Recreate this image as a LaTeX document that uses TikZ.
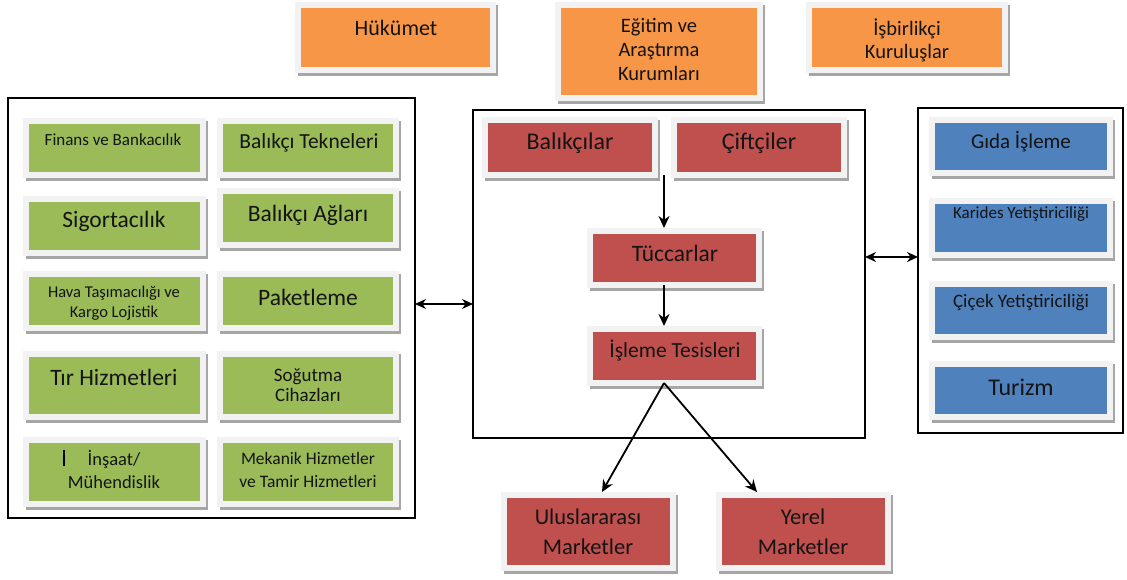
\documentclass[tikz,border=0pt]{standalone}
\usepackage{fontspec}
\setmainfont{Carlito}
\usetikzlibrary{backgrounds,arrows.meta}

\definecolor{orangebox}{HTML}{F79646}
\definecolor{greenbox}{HTML}{9BBB59}
\definecolor{redbox}{HTML}{C0504D}
\definecolor{bluebox}{HTML}{4F81BD}
\definecolor{framegray}{HTML}{F2F2F2}
\definecolor{shadowgray}{HTML}{A6A6A6}

% card: coloured panel with a light frame and a soft shadow below right
% #1 name, #2 colour, #3 left, #4 top, #5 right, #6 bottom
\newcommand\cardbox[6]{%
  \pgfmathsetmacro\cbx{(#3+#5)/2}%
  \pgfmathsetmacro\cby{(#4+#6)/2}%
  \pgfmathsetmacro\cbw{#5-#3}%
  \pgfmathsetmacro\cbh{#6-#4}%
  \node[card, fill=#2, minimum width=\cbw pt, minimum height=\cbh pt] (#1) at (\cbx,\cby) {};%
  \begin{scope}[on background layer]
    \fill[shadowgray] ([shift={(-3,-3)}]#1.north west) rectangle ([shift={(8,9)}]#1.south east);
    \fill[framegray] ([shift={(-6,-6)}]#1.north west) rectangle ([shift={(6,6)}]#1.south east);
  \end{scope}}

% outlined group frame: #1 name, #2 left, #3 top, #4 right, #5 bottom
\newcommand\groupbox[5]{%
  \pgfmathsetmacro\cbx{(#2+#4)/2}%
  \pgfmathsetmacro\cby{(#3+#5)/2}%
  \pgfmathsetmacro\cbw{#4-#2}%
  \pgfmathsetmacro\cbh{#5-#3}%
  \node[group, minimum width=\cbw pt, minimum height=\cbh pt] (#1) at (\cbx,\cby) {};}

\begin{document}
\begin{tikzpicture}[x=1pt,y=-1pt,
  card/.style={inner sep=0pt, outer sep=0pt},
  group/.style={draw=black, line width=1.6pt, inner sep=0pt, outer sep=0pt},
  lbl/.style={align=center, inner sep=0pt, text=black!92},
  flow/.style={draw=black, line width=1.8pt, -{Stealth[length=12pt,width=11pt]}},
  both/.style={draw=black, line width=1.8pt, {Stealth[length=11pt,width=10pt]}-{Stealth[length=11pt,width=10pt]}}
]
\useasboundingbox (0,0) rectangle (1127,580);

% group frames
\groupbox{lbox}{8}{98}{415}{518}
\groupbox{cbox}{473}{110}{865}{438}
\groupbox{rbox}{918}{108}{1123}{433}

% stakeholders on top
\cardbox{huk}{orangebox}{301}{8}{490}{67}
\cardbox{egi}{orangebox}{561}{8}{757}{95}
\cardbox{isb}{orangebox}{812}{8}{1002}{67}

% supporting services
\cardbox{fin}{greenbox}{29}{124}{200}{172}
\cardbox{tek}{greenbox}{223}{124}{393}{172}
\cardbox{sig}{greenbox}{29}{202}{200}{250}
\cardbox{agl}{greenbox}{223}{194}{393}{242}
\cardbox{hav}{greenbox}{29}{277}{200}{325}
\cardbox{pak}{greenbox}{223}{277}{393}{325}
\cardbox{tir}{greenbox}{29}{357}{200}{414}
\cardbox{sog}{greenbox}{223}{357}{393}{414}
\cardbox{ins}{greenbox}{29}{443}{200}{501}
\cardbox{mek}{greenbox}{223}{443}{393}{501}

% value chain
\cardbox{bal}{redbox}{488}{123}{652}{172}
\cardbox{cif}{redbox}{677}{123}{841}{172}
\cardbox{tuc}{redbox}{593}{234}{756}{282}
\cardbox{isl}{redbox}{593}{332}{756}{380}
\cardbox{ulu}{redbox}{507}{498}{670}{565}
\cardbox{yer}{redbox}{722}{498}{885}{565}

% related sectors
\cardbox{gid}{bluebox}{935}{123}{1107}{170}
\cardbox{kar}{bluebox}{935}{204}{1107}{252}
\cardbox{cic}{bluebox}{935}{287}{1107}{334}
\cardbox{tur}{bluebox}{935}{367}{1107}{414}

% labels
\node[lbl, font=\fontsize{22}{24}\selectfont] (thuk) at (396,28) {Hükümet};
\node[lbl, font=\fontsize{20.5}{24}\selectfont] (tegi) at (659,49) {Eğitim ve\\Araştırma\\Kurumları};
\node[lbl, font=\fontsize{20.5}{23}\selectfont] (tisb) at (907,40) {İşbirlikçi\\Kuruluşlar};

\node[lbl, font=\fontsize{17}{18}\selectfont] (tfin) at (113,140) {Finans ve Bankacılık};
\node[lbl, font=\fontsize{21.5}{24}\selectfont] (ttek) at (309,143) {Balıkçı Tekneleri};
\node[lbl, font=\fontsize{23.5}{26}\selectfont] (tsig) at (114,221) {Sigortacılık};
\node[lbl, font=\fontsize{23.5}{26}\selectfont] (tagl) at (308,215) {Balıkçı Ağları};
\node[lbl, font=\fontsize{16.5}{20}\selectfont] (thav) at (114,303) {Hava Taşımacılığı ve\\Kargo Lojistik};
\node[lbl, font=\fontsize{23.5}{26}\selectfont] (tpak) at (308,297) {Paketleme};
\node[lbl, font=\fontsize{23.5}{26}\selectfont] (ttir) at (114,377) {Tır Hizmetleri};
\node[lbl, font=\fontsize{19}{20}\selectfont] (tsog) at (308,385) {Soğutma\\Cihazları};
\node[lbl, font=\fontsize{18.5}{23}\selectfont] (tins) at (114,469.5) {İnşaat/\\Mühendislik};
\node[lbl, font=\fontsize{17.5}{23}\selectfont] (tmek) at (308,469.5) {Mekanik Hizmetler\\ve Tamir Hizmetleri};
\draw[line width=1.4pt] (64,450) -- (64,466);

\node[lbl, font=\fontsize{24}{26}\selectfont] (tbal) at (570,143) {Balıkçılar};
\node[lbl, font=\fontsize{24}{26}\selectfont] (tcif) at (759,143) {Çiftçiler};
\node[lbl, font=\fontsize{23.5}{26}\selectfont] (ttuc) at (675,253) {Tüccarlar};
\node[lbl, font=\fontsize{21.5}{24}\selectfont] (tisl) at (675,351) {İşleme Tesisleri};
\node[lbl, font=\fontsize{22.5}{30}\selectfont] (tulu) at (588,532) {Uluslararası\\Marketler};
\node[lbl, font=\fontsize{22.5}{30}\selectfont] (tyer) at (803,532) {Yerel\\Marketler};

\node[lbl, font=\fontsize{21}{24}\selectfont] (tgid) at (1021,142) {Gıda İşleme};
\node[lbl, font=\fontsize{17}{20}\selectfont] (tkar) at (1021,214) {Karides Yetiştiriciliği};
\node[lbl, font=\fontsize{19}{22}\selectfont] (tcic) at (1021,303) {Çiçek Yetiştiriciliği};
\node[lbl, font=\fontsize{24}{26}\selectfont] (ttur) at (1021,387) {Turizm};

% flows through the value chain
\coordinate (merge) at ([shift={(12,3)}]bal.south east);
\draw[flow] (merge) -- ([yshift=6pt]merge |- tuc.north);
\draw[flow] ([shift={(0,3)}]merge |- tuc.south) -- ([yshift=6pt]merge |- isl.north);
\draw[flow] ([shift={(0,3)}]merge |- isl.south) -- ([shift={(13.5,-6)}]ulu.north);
\draw[flow] ([shift={(0,3)}]merge |- isl.south) -- ([shift={(-46.5,-6)}]yer.north);

% links between the groups
\draw[both] ([shift={(0,-4)}]lbox.east) -- ([shift={(0,-4)}]lbox.east -| cbox.west);
\draw[both] ([shift={(0,-17)}]cbox.east) -- ([shift={(0,-17)}]cbox.east -| rbox.west);
\end{tikzpicture}
\end{document}
